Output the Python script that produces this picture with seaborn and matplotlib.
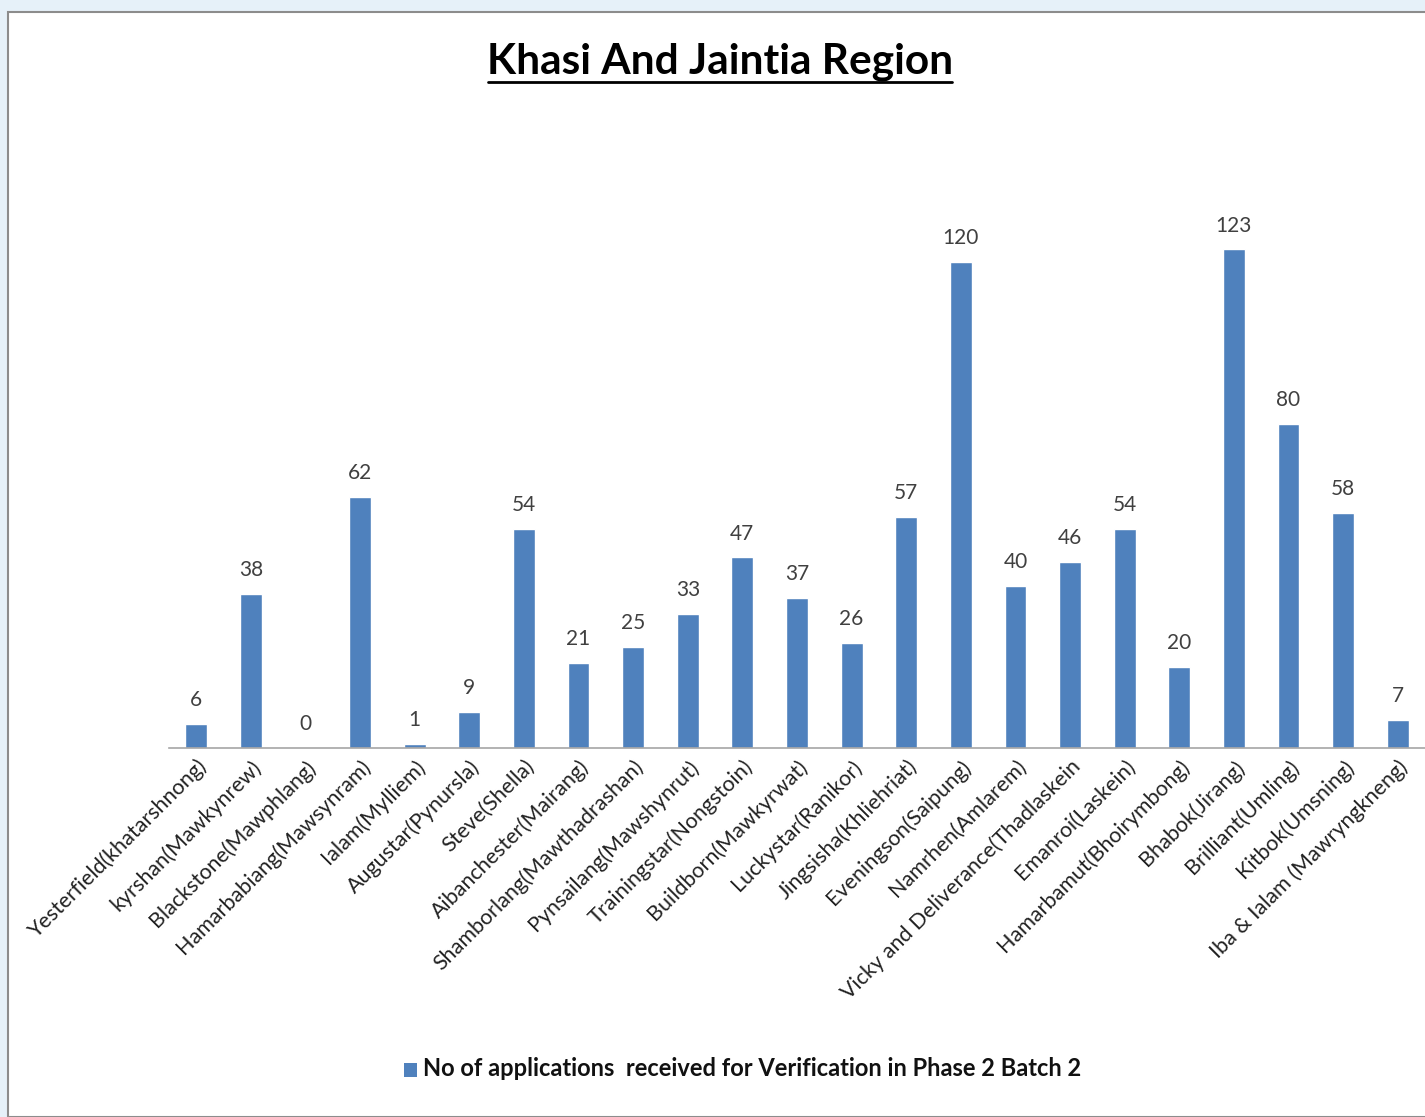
import pandas as pd
import numpy as np
import matplotlib.pyplot as plt
import matplotlib.patches as patches
import matplotlib.lines as mlines
import seaborn as sns

# data
names = ['Yesterfield(khatarshnong)', 'kyrshan(Mawkynrew)', 'Blackstone(Mawphlang)',
         'Hamarbabiang(Mawsynram)', 'Ialam(Mylliem)', 'Augustar(Pynursla)',
         'Steve(Shella)', 'Aibanchester(Mairang)', 'Shamborlang(Mawthadrashan)',
         'Pynsailang(Mawshynrut)', 'Trainingstar(Nongstoin)', 'Buildborn(Mawkyrwat)',
         'Luckystar(Ranikor)', 'Jingsisha(Khliehriat)', 'Eveningson(Saipung)',
         'Namrhen(Amlarem)', 'Vicky and Deliverance(Thadlaskein', 'Emanroi(Laskein)',
         'Hamarbamut(Bhoirymbong)', 'Bhabok(Jirang)', 'Brilliant(Umling)',
         'Kitbok(Umsning)', 'Iba & Ialam (Mawryngkneng)']
counts = [6, 38, 0, 62, 1, 9, 54, 21, 25, 33, 47, 37, 26, 57, 120, 40, 46, 54, 20, 123, 80, 58, 7]
series_name = 'No of applications  received for Verification in Phase 2 Batch 2'

df = pd.DataFrame({'Name': names, 'Count': counts})

sns.set_style('white')
plt.rcParams['font.family'] = ['Lato', 'DejaVu Sans']

fig = plt.figure(figsize=(14.25, 11.17), dpi=100)
fig.patch.set_facecolor('#e6f1f9')

# white chart panel with grey border
panel = patches.Rectangle((8/1425, 0), 1 - 8/1425 + 0.01, 1 - 12/1117,
                          transform=fig.transFigure, facecolor='white',
                          edgecolor='#8c8c8c', linewidth=1.5, zorder=-5)
fig.patches.append(panel)

ax = fig.add_axes([169/1425, 1 - 748/1117, 1256/1425, 608/1117])
ax.set_facecolor('none')
ax.set_zorder(2)

bar_color = '#4f81bd'
sns.barplot(data=df, x='Name', y='Count', color=bar_color, width=0.4,
            saturation=1, ax=ax)

ax.set_ylim(0, 150)
ax.set_xlim(-0.5, len(names) - 0.5)
ax.bar_label(ax.containers[0], labels=[str(c) for c in counts], padding=10,
             fontsize=15, color='#404040')

for s in ['top', 'right', 'left']:
    ax.spines[s].set_visible(False)
ax.spines['bottom'].set_color('#a6a6a6')
ax.spines['bottom'].set_linewidth(1.2)
ax.set_yticks([])
ax.set_xlabel('')
ax.set_ylabel('')
ax.tick_params(axis='x', length=0, pad=6)
ax.set_xticks(range(len(names)))
ax.set_xticklabels(names, rotation=45, ha='right', rotation_mode='anchor',
                   fontsize=15.5, color='#222222')

# title with underline
fig.text(720/1425, 1 - 62/1117, 'Khasi And Jaintia Region',
         ha='center', va='center', fontsize=30.5, fontweight='bold', color='black')
fig.add_artist(mlines.Line2D([488/1425, 952/1425], [1 - 82/1117, 1 - 82/1117],
                             transform=fig.transFigure, color='black', linewidth=2))

# legend
fig.patches.append(patches.Rectangle((404/1425, 1 - 1077/1117), 13/1425, 14/1117,
                                     transform=fig.transFigure, facecolor=bar_color,
                                     edgecolor='none'))
fig.text(423/1425, 1 - 1069/1117, series_name, ha='left', va='center',
         fontsize=17, fontweight='bold', color='#111111')

fig.savefig('out.png', dpi=100, facecolor=fig.get_facecolor())
